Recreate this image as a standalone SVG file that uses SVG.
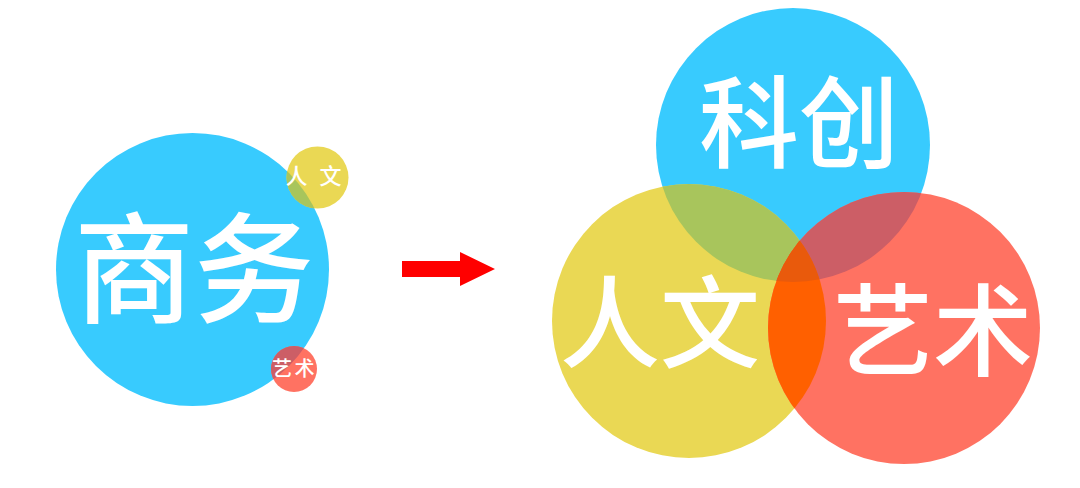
<svg xmlns="http://www.w3.org/2000/svg" width="1080" height="488" viewBox="0 0 1080 488">
<style>
.blue{fill:#38CBFE}
.yellow{fill:#EAD854}
.red{fill:#FF7262}
.by{fill:#A8C55C}
.br{fill:#CC5E66}
.yr{fill:#FF6000}
.byr{fill:#E95A0C}
.lbl{fill:#FFFFFF;font-family:"Noto Sans CJK SC","Noto Sans CJK JP",sans-serif;text-anchor:middle;font-weight:500}
</style>
<defs>
<clipPath id="cBlueL"><circle cx="192.5" cy="269.5" r="136.5"/></clipPath>
<clipPath id="cBlueR"><circle cx="793" cy="145" r="137"/></clipPath>
<clipPath id="cYellowR"><circle cx="689" cy="321" r="137"/></clipPath>
<clipPath id="cRedR"><circle cx="904" cy="328" r="136"/></clipPath>
</defs>
<rect width="1080" height="488" fill="#FFFFFF"/>

<g id="node-shangwu">
<circle class="blue" cx="192.5" cy="269.5" r="136.5"/>
<text class="lbl" x="194" y="314" font-size="120">商务</text>
</g>
<g id="node-renwen-small">
<circle class="yellow" cx="317.5" cy="177.5" r="31"/>
<circle class="by" cx="317.5" cy="177.5" r="31" clip-path="url(#cBlueL)"/>
<text class="lbl" y="184" font-size="22"><tspan x="296.5">人</tspan><tspan x="330.5">文</tspan></text>
</g>
<g id="node-yishu-small">
<circle class="red" cx="294" cy="369" r="23"/>
<circle class="br" cx="294" cy="369" r="23" clip-path="url(#cBlueL)"/>
<text class="lbl" y="376" font-size="20"><tspan x="282">艺</tspan><tspan x="304.5">术</tspan></text>
</g>

<g id="connectors">
<polygon fill="#FF0000" points="402,261 460,261 460,252 495,269 460,286 460,277 402,277"/>
</g>

<g id="node-kechuang">
<circle class="blue" cx="793" cy="145" r="137"/>
</g>
<g id="node-renwen">
<circle class="yellow" cx="689" cy="321" r="137"/>
</g>
<g id="node-yishu">
<circle class="red" cx="904" cy="328" r="136"/>
</g>
<g id="overlaps">
<circle class="by" cx="689" cy="321" r="137" clip-path="url(#cBlueR)"/>
<circle class="br" cx="904" cy="328" r="136" clip-path="url(#cBlueR)"/>
<circle class="yr" cx="904" cy="328" r="136" clip-path="url(#cYellowR)"/>
<g clip-path="url(#cBlueR)"><circle class="byr" cx="904" cy="328" r="136" clip-path="url(#cYellowR)"/></g>
</g>
<g id="labels">
<text class="lbl" x="799" y="160" font-size="100">科创</text>
<text class="lbl" x="660" y="360" font-size="100">人文</text>
<text class="lbl" x="933" y="368" font-size="100">艺术</text>
</g>
</svg>
